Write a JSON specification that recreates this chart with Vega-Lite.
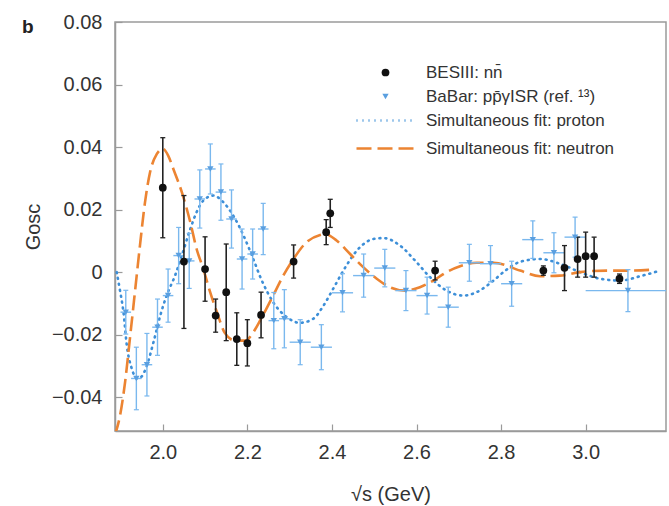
{
  "$schema": "https://vega.github.io/schema/vega-lite/v6.json",
  "autosize": {"type": "none"},
  "width": 551,
  "height": 409,
  "padding": {"left": 115, "top": 22, "right": 3, "bottom": 75},
  "background": "white",
  "title": {"text": "b", "anchor": "start", "frame": "group", "orient": "top", "offset": -40, "dx": -93, "baseline": "alphabetic", "fontSize": 19, "fontWeight": "bold", "font": "Liberation Sans", "color": "#222"},
  "config": {
    "font": "Liberation Sans",
    "view": {"stroke": "#9a9a9a", "strokeWidth": 1.5},
    "axis": {"domainColor": "#9a9a9a", "domainWidth": 1.5, "tickColor": "#9a9a9a", "tickWidth": 1.2, "grid": false, "labelFont": "Liberation Sans", "labelFontSize": 20, "labelColor": "#333", "titleFont": "Liberation Sans", "titleFontSize": 20, "titleFontWeight": "normal", "titleColor": "#333"},
    "legend": {"title": null, "labelFontSize": 17, "labelColor": "#333", "labelFont": "Liberation Sans", "labelLimit": 400, "padding": 0}
  },
  "resolve": {"scale": {"stroke": "independent", "strokeDash": "independent"}, "legend": {"stroke": "independent", "strokeDash": "independent"}},
  "datasets": {
    "besiii": [
      {"x": 2.0, "y": 0.027, "ylo": 0.011, "yhi": 0.043},
      {"x": 2.05, "y": 0.0034, "ylo": -0.018, "yhi": 0.0245},
      {"x": 2.1, "y": 0.001, "ylo": -0.0093, "yhi": 0.0113},
      {"x": 2.125, "y": -0.0139, "ylo": -0.0192, "yhi": -0.0086},
      {"x": 2.15, "y": -0.0064, "ylo": -0.0219, "yhi": 0.009},
      {"x": 2.175, "y": -0.0214, "ylo": -0.0298, "yhi": -0.013},
      {"x": 2.2, "y": -0.0227, "ylo": -0.03, "yhi": -0.0152},
      {"x": 2.2324, "y": -0.0137, "ylo": -0.021, "yhi": -0.0064},
      {"x": 2.3094, "y": 0.0034, "ylo": -0.0019, "yhi": 0.0087},
      {"x": 2.3864, "y": 0.0128, "ylo": 0.0088, "yhi": 0.0168},
      {"x": 2.396, "y": 0.0188, "ylo": 0.0143, "yhi": 0.0233},
      {"x": 2.644, "y": 0.0005, "ylo": -0.0025, "yhi": 0.0035},
      {"x": 2.9, "y": 0.0005, "ylo": -0.001, "yhi": 0.002},
      {"x": 2.95, "y": 0.0014, "ylo": -0.0059, "yhi": 0.0085},
      {"x": 2.981, "y": 0.0042, "ylo": -0.0016, "yhi": 0.0112},
      {"x": 3.0, "y": 0.0051, "ylo": -0.0016, "yhi": 0.0128},
      {"x": 3.02, "y": 0.0051, "ylo": -0.0016, "yhi": 0.0112},
      {"x": 3.08, "y": -0.0021, "ylo": -0.0036, "yhi": -0.0006}
    ],
    "babar": [
      {"x": 1.9125, "xlo": 1.9, "xhi": 1.925, "y": -0.0128, "ylo": -0.0198, "yhi": -0.0058},
      {"x": 1.9375, "xlo": 1.925, "xhi": 1.95, "y": -0.034, "ylo": -0.044, "yhi": -0.024},
      {"x": 1.9625, "xlo": 1.95, "xhi": 1.975, "y": -0.0296, "ylo": -0.0396, "yhi": -0.0196},
      {"x": 1.9875, "xlo": 1.975, "xhi": 2.0, "y": -0.0176, "ylo": -0.0266, "yhi": -0.0086},
      {"x": 2.0125, "xlo": 2.0, "xhi": 2.025, "y": -0.0075, "ylo": -0.016, "yhi": 0.001},
      {"x": 2.0375, "xlo": 2.025, "xhi": 2.05, "y": 0.0053, "ylo": -0.0037, "yhi": 0.0143},
      {"x": 2.0625, "xlo": 2.05, "xhi": 2.075, "y": 0.0036, "ylo": -0.0052, "yhi": 0.0124},
      {"x": 2.0875, "xlo": 2.075, "xhi": 2.1, "y": 0.0234, "ylo": 0.0141, "yhi": 0.0327},
      {"x": 2.1125, "xlo": 2.1, "xhi": 2.125, "y": 0.033, "ylo": 0.025, "yhi": 0.041},
      {"x": 2.1375, "xlo": 2.125, "xhi": 2.15, "y": 0.0256, "ylo": 0.0166, "yhi": 0.0346},
      {"x": 2.1625, "xlo": 2.15, "xhi": 2.175, "y": 0.017, "ylo": 0.0077, "yhi": 0.0263},
      {"x": 2.1875, "xlo": 2.175, "xhi": 2.2, "y": 0.0042, "ylo": -0.0054, "yhi": 0.0138},
      {"x": 2.2125, "xlo": 2.2, "xhi": 2.225, "y": 0.0058, "ylo": -0.0022, "yhi": 0.0138},
      {"x": 2.2375, "xlo": 2.225, "xhi": 2.25, "y": 0.0138, "ylo": 0.0056, "yhi": 0.022},
      {"x": 2.2625, "xlo": 2.25, "xhi": 2.275, "y": -0.0155, "ylo": -0.0245, "yhi": -0.0065},
      {"x": 2.2875, "xlo": 2.275, "xhi": 2.3, "y": -0.0149, "ylo": -0.0242, "yhi": -0.0056},
      {"x": 2.325, "xlo": 2.3, "xhi": 2.35, "y": -0.0224, "ylo": -0.0296, "yhi": -0.0152},
      {"x": 2.375, "xlo": 2.35, "xhi": 2.4, "y": -0.024, "ylo": -0.0312, "yhi": -0.0168},
      {"x": 2.425, "xlo": 2.4, "xhi": 2.45, "y": -0.0066, "ylo": -0.0127, "yhi": -0.0005},
      {"x": 2.475, "xlo": 2.45, "xhi": 2.5, "y": -0.0011, "ylo": -0.008, "yhi": 0.0058},
      {"x": 2.525, "xlo": 2.5, "xhi": 2.55, "y": 0.0013, "ylo": -0.0047, "yhi": 0.0073},
      {"x": 2.575, "xlo": 2.55, "xhi": 2.6, "y": -0.0059, "ylo": -0.0123, "yhi": 0.0005},
      {"x": 2.625, "xlo": 2.6, "xhi": 2.65, "y": -0.0075, "ylo": -0.0134, "yhi": -0.0016},
      {"x": 2.675, "xlo": 2.65, "xhi": 2.7, "y": -0.0112, "ylo": -0.0176, "yhi": -0.0048},
      {"x": 2.725, "xlo": 2.7, "xhi": 2.75, "y": 0.003, "ylo": -0.0029, "yhi": 0.0089},
      {"x": 2.775, "xlo": 2.75, "xhi": 2.8, "y": 0.0027, "ylo": -0.0031, "yhi": 0.0085},
      {"x": 2.825, "xlo": 2.8, "xhi": 2.85, "y": -0.0037, "ylo": -0.0109, "yhi": 0.0035},
      {"x": 2.875, "xlo": 2.85, "xhi": 2.9, "y": 0.0104, "ylo": 0.0044, "yhi": 0.0164},
      {"x": 2.925, "xlo": 2.9, "xhi": 2.95, "y": 0.0062, "ylo": -0.0002, "yhi": 0.0126},
      {"x": 2.975, "xlo": 2.95, "xhi": 3.0, "y": 0.0112, "ylo": 0.0048, "yhi": 0.0176},
      {"x": 3.1, "xlo": 3.0, "xhi": 3.2, "y": -0.0059, "ylo": -0.0126, "yhi": 0.0008}
    ],
    "proton": [
      {"fit": "Simultaneous fit: proton", "x": 1.891, "y": 0.0},
      {"fit": "Simultaneous fit: proton", "x": 1.899, "y": -0.006},
      {"fit": "Simultaneous fit: proton", "x": 1.907, "y": -0.0128},
      {"fit": "Simultaneous fit: proton", "x": 1.915, "y": -0.0235},
      {"fit": "Simultaneous fit: proton", "x": 1.927, "y": -0.031},
      {"fit": "Simultaneous fit: proton", "x": 1.939, "y": -0.034},
      {"fit": "Simultaneous fit: proton", "x": 1.949, "y": -0.0335},
      {"fit": "Simultaneous fit: proton", "x": 1.962, "y": -0.03},
      {"fit": "Simultaneous fit: proton", "x": 1.978, "y": -0.0224},
      {"fit": "Simultaneous fit: proton", "x": 1.994, "y": -0.0139},
      {"fit": "Simultaneous fit: proton", "x": 2.009, "y": -0.0075},
      {"fit": "Simultaneous fit: proton", "x": 2.029, "y": -0.0011},
      {"fit": "Simultaneous fit: proton", "x": 2.045, "y": 0.0053},
      {"fit": "Simultaneous fit: proton", "x": 2.065, "y": 0.0138},
      {"fit": "Simultaneous fit: proton", "x": 2.08, "y": 0.0192},
      {"fit": "Simultaneous fit: proton", "x": 2.096, "y": 0.0229},
      {"fit": "Simultaneous fit: proton", "x": 2.12, "y": 0.0245},
      {"fit": "Simultaneous fit: proton", "x": 2.143, "y": 0.0224},
      {"fit": "Simultaneous fit: proton", "x": 2.167, "y": 0.018},
      {"fit": "Simultaneous fit: proton", "x": 2.191, "y": 0.0117},
      {"fit": "Simultaneous fit: proton", "x": 2.214, "y": 0.0042},
      {"fit": "Simultaneous fit: proton", "x": 2.232, "y": -0.002},
      {"fit": "Simultaneous fit: proton", "x": 2.261, "y": -0.0096},
      {"fit": "Simultaneous fit: proton", "x": 2.293, "y": -0.0144},
      {"fit": "Simultaneous fit: proton", "x": 2.325, "y": -0.0162},
      {"fit": "Simultaneous fit: proton", "x": 2.356, "y": -0.0149},
      {"fit": "Simultaneous fit: proton", "x": 2.38, "y": -0.0107},
      {"fit": "Simultaneous fit: proton", "x": 2.403, "y": -0.0053},
      {"fit": "Simultaneous fit: proton", "x": 2.427, "y": 0.0005},
      {"fit": "Simultaneous fit: proton", "x": 2.459, "y": 0.0069},
      {"fit": "Simultaneous fit: proton", "x": 2.498, "y": 0.0106},
      {"fit": "Simultaneous fit: proton", "x": 2.522, "y": 0.0109},
      {"fit": "Simultaneous fit: proton", "x": 2.561, "y": 0.0085},
      {"fit": "Simultaneous fit: proton", "x": 2.6, "y": 0.0032},
      {"fit": "Simultaneous fit: proton", "x": 2.632, "y": -0.0016},
      {"fit": "Simultaneous fit: proton", "x": 2.671, "y": -0.0059},
      {"fit": "Simultaneous fit: proton", "x": 2.711, "y": -0.0075},
      {"fit": "Simultaneous fit: proton", "x": 2.742, "y": -0.0064},
      {"fit": "Simultaneous fit: proton", "x": 2.782, "y": -0.0027},
      {"fit": "Simultaneous fit: proton", "x": 2.81, "y": 0.0005},
      {"fit": "Simultaneous fit: proton", "x": 2.845, "y": 0.0033},
      {"fit": "Simultaneous fit: proton", "x": 2.892, "y": 0.0042},
      {"fit": "Simultaneous fit: proton", "x": 2.939, "y": 0.0027},
      {"fit": "Simultaneous fit: proton", "x": 2.987, "y": 0.0},
      {"fit": "Simultaneous fit: proton", "x": 3.034, "y": -0.0021},
      {"fit": "Simultaneous fit: proton", "x": 3.082, "y": -0.0027},
      {"fit": "Simultaneous fit: proton", "x": 3.129, "y": -0.0013},
      {"fit": "Simultaneous fit: proton", "x": 3.176, "y": 0.0005}
    ],
    "neutron": [
      {"fit": "Simultaneous fit: neutron", "x": 1.887, "y": -0.052},
      {"fit": "Simultaneous fit: neutron", "x": 1.899, "y": -0.0458},
      {"fit": "Simultaneous fit: neutron", "x": 1.911, "y": -0.035},
      {"fit": "Simultaneous fit: neutron", "x": 1.923, "y": -0.0203},
      {"fit": "Simultaneous fit: neutron", "x": 1.935, "y": -0.0053},
      {"fit": "Simultaneous fit: neutron", "x": 1.946, "y": 0.0085},
      {"fit": "Simultaneous fit: neutron", "x": 1.958, "y": 0.0224},
      {"fit": "Simultaneous fit: neutron", "x": 1.97, "y": 0.032},
      {"fit": "Simultaneous fit: neutron", "x": 1.986, "y": 0.0378},
      {"fit": "Simultaneous fit: neutron", "x": 2.0, "y": 0.0395},
      {"fit": "Simultaneous fit: neutron", "x": 2.013, "y": 0.0372},
      {"fit": "Simultaneous fit: neutron", "x": 2.025, "y": 0.033},
      {"fit": "Simultaneous fit: neutron", "x": 2.045, "y": 0.0256},
      {"fit": "Simultaneous fit: neutron", "x": 2.065, "y": 0.016},
      {"fit": "Simultaneous fit: neutron", "x": 2.08, "y": 0.0074},
      {"fit": "Simultaneous fit: neutron", "x": 2.096, "y": 0.001},
      {"fit": "Simultaneous fit: neutron", "x": 2.112, "y": -0.0064},
      {"fit": "Simultaneous fit: neutron", "x": 2.128, "y": -0.0128},
      {"fit": "Simultaneous fit: neutron", "x": 2.147, "y": -0.0195},
      {"fit": "Simultaneous fit: neutron", "x": 2.171, "y": -0.0219},
      {"fit": "Simultaneous fit: neutron", "x": 2.195, "y": -0.0219},
      {"fit": "Simultaneous fit: neutron", "x": 2.214, "y": -0.0192},
      {"fit": "Simultaneous fit: neutron", "x": 2.23, "y": -0.0155},
      {"fit": "Simultaneous fit: neutron", "x": 2.261, "y": -0.0075},
      {"fit": "Simultaneous fit: neutron", "x": 2.285, "y": -0.0011},
      {"fit": "Simultaneous fit: neutron", "x": 2.309, "y": 0.0042},
      {"fit": "Simultaneous fit: neutron", "x": 2.34, "y": 0.0096},
      {"fit": "Simultaneous fit: neutron", "x": 2.372, "y": 0.0119},
      {"fit": "Simultaneous fit: neutron", "x": 2.384, "y": 0.0122},
      {"fit": "Simultaneous fit: neutron", "x": 2.411, "y": 0.0101},
      {"fit": "Simultaneous fit: neutron", "x": 2.443, "y": 0.0058},
      {"fit": "Simultaneous fit: neutron", "x": 2.474, "y": 0.0016},
      {"fit": "Simultaneous fit: neutron", "x": 2.506, "y": -0.0021},
      {"fit": "Simultaneous fit: neutron", "x": 2.537, "y": -0.0048},
      {"fit": "Simultaneous fit: neutron", "x": 2.573, "y": -0.0059},
      {"fit": "Simultaneous fit: neutron", "x": 2.608, "y": -0.0048},
      {"fit": "Simultaneous fit: neutron", "x": 2.64, "y": -0.0027},
      {"fit": "Simultaneous fit: neutron", "x": 2.671, "y": 0.0},
      {"fit": "Simultaneous fit: neutron", "x": 2.703, "y": 0.0019},
      {"fit": "Simultaneous fit: neutron", "x": 2.742, "y": 0.003},
      {"fit": "Simultaneous fit: neutron", "x": 2.782, "y": 0.003},
      {"fit": "Simultaneous fit: neutron", "x": 2.845, "y": 0.0005},
      {"fit": "Simultaneous fit: neutron", "x": 2.892, "y": -0.0013},
      {"fit": "Simultaneous fit: neutron", "x": 2.939, "y": -0.0011},
      {"fit": "Simultaneous fit: neutron", "x": 2.987, "y": 0.0},
      {"fit": "Simultaneous fit: neutron", "x": 3.05, "y": 0.0005},
      {"fit": "Simultaneous fit: neutron", "x": 3.105, "y": 0.0005},
      {"fit": "Simultaneous fit: neutron", "x": 3.16, "y": 0.0008}
    ]
  },
  "encoding": {
    "x": {"type": "quantitative", "scale": {"domain": [1.887, 3.19], "nice": false, "zero": false}},
    "y": {"type": "quantitative", "scale": {"domain": [-0.0508, 0.08], "nice": false, "zero": false}}
  },
  "layer": [
    {
      "data": {"name": "proton"},
      "mark": {"type": "line", "clip": true, "strokeWidth": 2.6, "strokeCap": "round", "interpolate": "monotone"},
      "encoding": {
        "x": {"field": "x", "type": "quantitative", "axis": {"values": [2.0, 2.2, 2.4, 2.6, 2.8, 3.0], "format": ".1f", "tickSize": -7, "labelPadding": 18, "title": "√s (GeV)", "titlePadding": 22}},
        "y": {"field": "y", "type": "quantitative", "axis": {"values": [-0.04, -0.02, 0, 0.02, 0.04, 0.06, 0.08], "labelExpr": "datum.value == 0 ? '0' : format(datum.value, '.2f')", "tickSize": -7, "labelPadding": 20, "title": "Gosc", "titlePadding": 8}},
        "stroke": {"field": "fit", "type": "nominal", "scale": {"domain": ["Simultaneous fit: proton"], "range": ["#3d8fd8"]},
          "legend": {"orient": "none", "legendX": 240, "legendY": 67, "symbolType": "stroke", "symbolSize": 3600, "symbolStrokeWidth": 2.6, "labelOffset": 8}},
        "strokeDash": {"field": "fit", "type": "nominal", "scale": {"domain": ["Simultaneous fit: proton"], "range": [[1, 5]]}}
      }
    },
    {
      "data": {"name": "neutron"},
      "mark": {"type": "line", "clip": true, "strokeWidth": 2.6, "interpolate": "monotone"},
      "encoding": {
        "x": {"field": "x", "type": "quantitative"},
        "y": {"field": "y", "type": "quantitative"},
        "stroke": {"field": "fit", "type": "nominal", "scale": {"domain": ["Simultaneous fit: neutron"], "range": ["#ec8432"]},
          "legend": {"orient": "none", "legendX": 240, "legendY": 95, "symbolType": "stroke", "symbolSize": 3600, "symbolStrokeWidth": 2.6, "labelOffset": 8}},
        "strokeDash": {"field": "fit", "type": "nominal", "scale": {"domain": ["Simultaneous fit: neutron"], "range": [[15, 6]]}}
      }
    },
    {
      "data": {"name": "babar"},
      "mark": {"type": "rule", "color": "#7ab8ee", "strokeWidth": 1.4},
      "encoding": {"x": {"field": "x", "type": "quantitative"}, "y": {"field": "ylo", "type": "quantitative"}, "y2": {"field": "yhi"}}
    },
    {
      "data": {"name": "babar"},
      "mark": {"type": "tick", "orient": "horizontal", "color": "#7ab8ee", "size": 5, "thickness": 1.2, "opacity": 1},
      "encoding": {"x": {"field": "x", "type": "quantitative"}, "y": {"field": "ylo", "type": "quantitative"}}
    },
    {
      "data": {"name": "babar"},
      "mark": {"type": "tick", "orient": "horizontal", "color": "#7ab8ee", "size": 5, "thickness": 1.2, "opacity": 1},
      "encoding": {"x": {"field": "x", "type": "quantitative"}, "y": {"field": "yhi", "type": "quantitative"}}
    },
    {
      "data": {"name": "babar"},
      "mark": {"type": "rule", "color": "#7ab8ee", "strokeWidth": 1.4, "clip": true},
      "encoding": {"x": {"field": "xlo", "type": "quantitative"}, "x2": {"field": "xhi"}, "y": {"field": "y", "type": "quantitative"}}
    },
    {
      "data": {"name": "besiii"},
      "mark": {"type": "rule", "color": "#222", "strokeWidth": 1.6},
      "encoding": {"x": {"field": "x", "type": "quantitative"}, "y": {"field": "ylo", "type": "quantitative"}, "y2": {"field": "yhi"}}
    },
    {
      "data": {"name": "besiii"},
      "mark": {"type": "tick", "orient": "horizontal", "color": "#222", "size": 5, "thickness": 1.3, "opacity": 1},
      "encoding": {"x": {"field": "x", "type": "quantitative"}, "y": {"field": "ylo", "type": "quantitative"}}
    },
    {
      "data": {"name": "besiii"},
      "mark": {"type": "tick", "orient": "horizontal", "color": "#222", "size": 5, "thickness": 1.3, "opacity": 1},
      "encoding": {"x": {"field": "x", "type": "quantitative"}, "y": {"field": "yhi", "type": "quantitative"}}
    },
    {
      "data": {"name": "babar"},
      "transform": [{"calculate": "'BaBar: pp̄γISR (ref. ¹³)'", "as": "src"}],
      "mark": {"type": "point", "filled": true, "opacity": 1},
      "encoding": {
        "x": {"field": "x", "type": "quantitative"},
        "y": {"field": "y", "type": "quantitative"},
        "color": {"field": "src", "type": "nominal", "scale": {"domain": ["BESIII: nn̄", "BaBar: pp̄γISR (ref. ¹³)"], "range": ["#111111", "#5a9fe0"]}, "legend": {"orient": "none", "legendX": 262, "legendY": 42, "labelOffset": 32, "rowPadding": 6}},
        "shape": {"field": "src", "type": "nominal", "scale": {"domain": ["BESIII: nn̄", "BaBar: pp̄γISR (ref. ¹³)"], "range": ["circle", "triangle-down"]}},
        "size": {"field": "src", "type": "nominal", "scale": {"domain": ["BESIII: nn̄", "BaBar: pp̄γISR (ref. ¹³)"], "range": [60, 40]}}
      }
    },
    {
      "data": {"name": "besiii"},
      "transform": [{"calculate": "'BESIII: nn̄'", "as": "src"}],
      "mark": {"type": "point", "filled": true, "opacity": 1},
      "encoding": {
        "x": {"field": "x", "type": "quantitative"},
        "y": {"field": "y", "type": "quantitative"},
        "color": {"field": "src", "type": "nominal"},
        "shape": {"field": "src", "type": "nominal"},
        "size": {"field": "src", "type": "nominal"}
      }
    }
  ]
}
